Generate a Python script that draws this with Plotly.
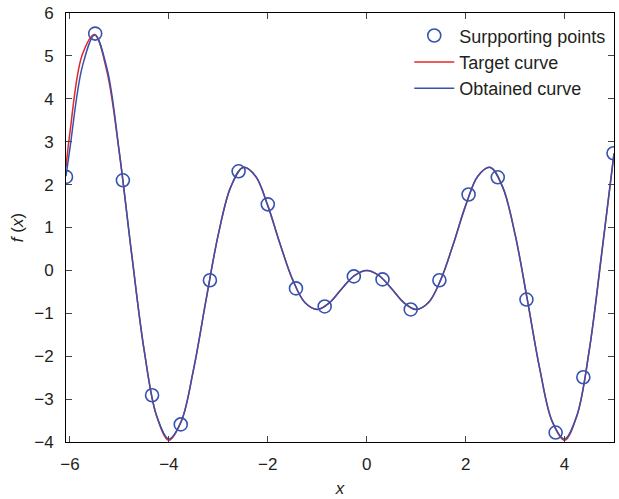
import plotly.graph_objects as go

# Supporting points
pts_x = [-6.08, -5.49, -4.93, -4.34, -3.76, -3.17, -2.59, -2.00, -1.43, -0.85,
         -0.26, 0.32, 0.89, 1.47, 2.06, 2.65, 3.23, 3.82, 4.38, 4.99]
pts_y = [2.18, 5.52, 2.10, -2.91, -3.59, -0.23, 2.31, 1.54, -0.42, -0.84,
         -0.14, -0.21, -0.91, -0.23, 1.77, 2.17, -0.68, -3.78, -2.49, 2.73]

# Target curve
tgt_x = [-6.08, -6.0, -5.75, -5.5, -5.25, -5.0, -4.75, -4.5, -4.25, -4.0, -3.75, -3.5,
         -3.25, -3.0, -2.75, -2.5, -2.25, -2.0, -1.75, -1.5, -1.25, -1.0, -0.75, -0.5,
         -0.25, 0.0, 0.25, 0.5, 0.75, 1.0, 1.25, 1.5, 1.75, 2.0, 2.25, 2.5, 2.75, 3.0,
         3.25, 3.5, 3.75, 4.0, 4.25, 4.5, 4.75, 5.0]
tgt_y = [2.40, 3.22, 5.03, 5.50, 4.62, 2.72, 0.36, -1.86, -3.39, -3.96, -3.52, -2.30,
         -0.70, 0.84, 1.94, 2.40, 2.20, 1.51, 0.61, -0.21, -0.75, -0.91, -0.75, -0.42,
         -0.12, 0.0, -0.12, -0.42, -0.75, -0.91, -0.75, -0.21, 0.61, 1.51, 2.20, 2.40,
         1.94, 0.84, -0.70, -2.30, -3.52, -3.96, -3.39, -1.86, 0.36, 2.72]

# Obtained curve
obt_x = tgt_x
obt_y = [2.20, 2.85, 4.75, 5.49, 4.70, 2.74, 0.36, -1.86, -3.38, -3.93, -3.52, -2.30,
         -0.70, 0.84, 1.94, 2.40, 2.20, 1.51, 0.61, -0.21, -0.75, -0.91, -0.75, -0.42,
         -0.12, 0.0, -0.12, -0.42, -0.75, -0.91, -0.75, -0.21, 0.61, 1.51, 2.20, 2.40,
         1.94, 0.84, -0.70, -2.30, -3.52, -3.93, -3.38, -1.86, 0.40, 2.73]

x_ticks = [-6, -4, -2, 0, 2, 4]
y_ticks = [-4, -3, -2, -1, 0, 1, 2, 3, 4, 5, 6]

BLUE = "#3553AE"
RED = "#E3262B"

fig = go.Figure()
fig.add_trace(go.Scatter(x=pts_x, y=pts_y, mode="markers", name="Surpporting points",
                         marker=dict(symbol="circle-open", size=13, color=BLUE,
                                     line=dict(width=1.6, color=BLUE))))
fig.add_trace(go.Scatter(x=tgt_x, y=tgt_y, mode="lines", name="Target curve",
                         line=dict(color=RED, width=1.5, shape="spline", smoothing=1.0)))
fig.add_trace(go.Scatter(x=obt_x, y=obt_y, mode="lines", name="Obtained curve",
                         line=dict(color=BLUE, width=1.5, shape="spline", smoothing=1.0)))

font_family = "Liberation Sans, Arial, sans-serif"
fig.update_layout(
    width=619, height=499,
    margin=dict(l=66, r=5, t=13, b=57),
    paper_bgcolor="white", plot_bgcolor="white",
    font=dict(family=font_family, size=17, color="#231f20"),
    showlegend=True,
    legend=dict(x=0.995, y=0.99, xanchor="right", yanchor="top",
                bgcolor="rgba(0,0,0,0)", font=dict(size=18),
                tracegroupgap=0, itemwidth=40),
    xaxis=dict(range=[-6.08, 5.0], tickvals=x_ticks, ticks="inside", ticklen=6,
               ticklabelstandoff=7,
               showline=True, linecolor="black", linewidth=1, mirror="ticks",
               showgrid=False, zeroline=False,
               title=dict(text="<i>x</i>", standoff=8, font=dict(size=17))),
    yaxis=dict(range=[-4, 6], tickvals=y_ticks, ticks="inside", ticklen=6,
               ticklabelstandoff=8,
               showline=True, linecolor="black", linewidth=1, mirror="ticks",
               showgrid=False, zeroline=False,
               title=dict(text="<i>f</i> (<i>x</i>)", standoff=6, font=dict(size=17))),
)

fig.write_html("out.html")
